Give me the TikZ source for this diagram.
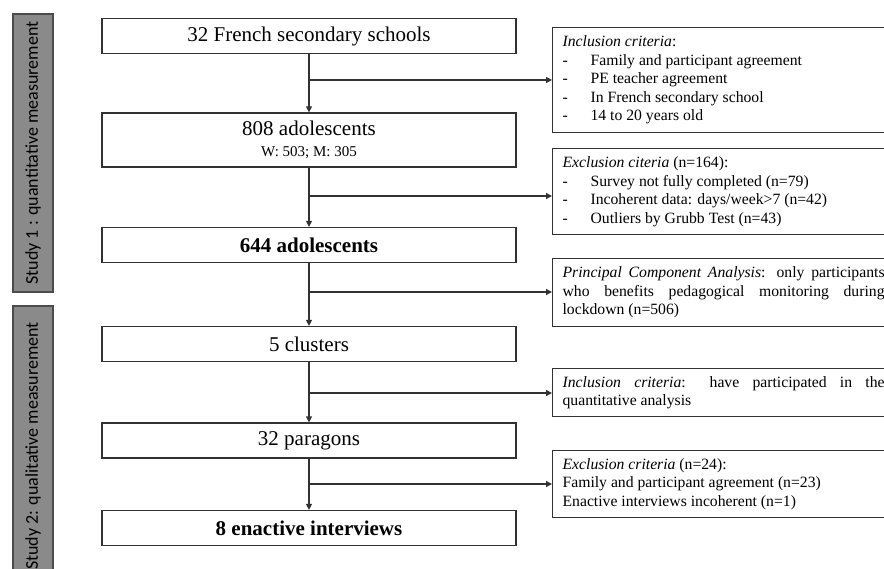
\documentclass[tikz,border=0pt]{standalone}
\usepackage{fontspec}
\setmainfont{Liberation Serif}
\newfontfamily\barfont{Carlito}
\usetikzlibrary{arrows.meta}
\definecolor{bargrey}{RGB}{138,138,138}
\definecolor{edgegrey}{RGB}{50,50,50}
\hyphenpenalty=10000
\newcommand{\critline}[1]{\makebox[28pt][l]{-}#1}

\begin{document}
\begin{tikzpicture}
  [x=1pt,y=-1pt,line width=1.2pt,>={Triangle[length=6pt,width=6pt]},
   every node/.style={draw=edgegrey,inner sep=0pt},
   mainbox/.style={minimum width=414pt,minimum height=35pt,align=center,
     font=\fontsize{21}{24}\selectfont},
   critbox/.style={anchor=west,text width=322pt,inner xsep=10pt,inner ysep=8pt,
     align=justify,font=\fontsize{15.7}{18.5}\selectfont},
   studybar/.style={fill=bargrey,draw=black!70,rotate=90,minimum height=40pt,
     font=\barfont\fontsize{18}{20}\selectfont}]
  \useasboundingbox (0,0) rectangle (884,569);

  % study bars
  \node[studybar,minimum width=278pt] (s1) at (33,153) {Study 1 : quantitative measurement};
  \node[studybar,minimum width=280pt] (s2) at (33,446) {Study 2: qualitative measurement};

  % main flow
  \node[mainbox] (n1) at (309,36)  {32 French secondary schools};
  \node[mainbox,minimum height=54pt] (n2) at (309,140)
    {808 adolescents\\[-3pt]{\fontsize{15}{17}\selectfont W: 503; M: 305}};
  \node[mainbox] (n3) at (309,245) {\textbf{644 adolescents}};
  \node[mainbox] (n4) at (309,344) {5 clusters};
  \node[mainbox] (n5) at (309,440.5) {32 paragons};
  \node[mainbox] (n6) at (309,528) {\textbf{8 enactive interviews}};

  % criteria
  \node[critbox] (c1) at (552,80) {\textit{Inclusion criteria}:\\
    \critline{Family and participant agreement}\\
    \critline{PE teacher agreement}\\
    \critline{In French secondary school}\\
    \critline{14 to 20 years old}};
  \node[critbox] (c2) at (552,191.5) {\textit{Exclusion citeria} (n=164):\\
    \critline{Survey not fully completed (n=79)}\\
    \critline{Incoherent data: days/week>7 (n=42)}\\
    \critline{Outliers by Grubb Test (n=43)}};
  \node[critbox] (c3) at (552,292.5) {\textit{Principal Component Analysis}: only
    participants who benefits pedagogical monitoring during lockdown (n=506)};
  \node[critbox] (c4) at (552,392.5) {\textit{Inclusion criteria}: have
    participated in the quantitative analysis};
  \node[critbox] (c5) at (552,484) {\textit{Exclusion criteria} (n=24):\\
    Family and participant agreement (n=23)\\
    Enactive interviews incoherent (n=1)};

  \coordinate (b1) at (309,80);
  \coordinate (b2) at (309,196);
  \coordinate (b3) at (309,292);
  \coordinate (b4) at (309,393);
  \coordinate (b5) at (309,484);

  \foreach \from/\to in {n1/n2,n2/n3,n3/n4,n4/n5,n5/n6}
    \draw[->,edgegrey] (\from) -- (\to);
  \foreach \from/\to in {b1/c1,b2/c2,b3/c3,b4/c4,b5/c5}
    \draw[->,edgegrey] (\from) -- (\from -| \to.west);

\end{tikzpicture}
\end{document}
